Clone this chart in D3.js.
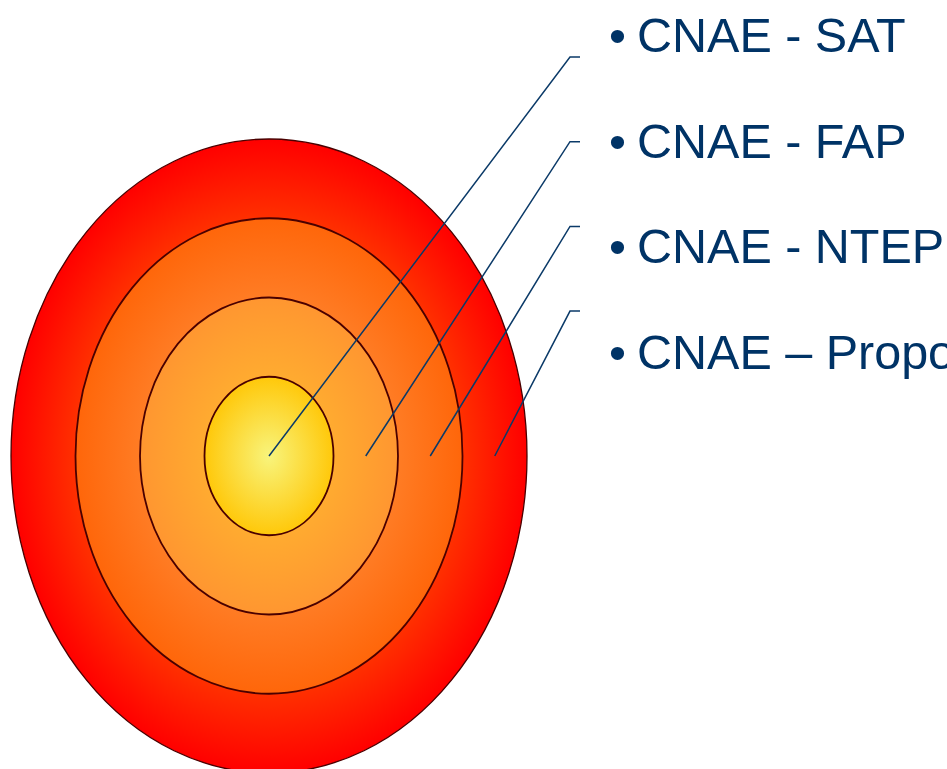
<!DOCTYPE html>
<html>
<head>
<meta charset="utf-8">
<script src="https://cdn.jsdelivr.net/npm/d3@7"></script>
<style>
  html, body { margin: 0; padding: 0; background: #fff; overflow: hidden; }
</style>
</head>
<body>
<div id="chart"></div>
<script>
// rings, from the outside in
var ringLevels = [4, 3, 2, 1];
var ringInner = ["#f8f47c", "#ffab30", "#ff7c24", "#ff3000"];
var ringOuter = ["#ffc80a", "#ff9630", "#ff660a", "#ff0000"];

// labels and where their leader line ends (in ring units)
var labels = ["CNAE - SAT", "CNAE - FAP", "CNAE - NTEP", "CNAE \u2013 Proporcionalidade"];
var leaderLevel = [0, 1.5, 2.5, 3.5];

var width = 947, height = 769;
var cx = 269, cy = 456;

var svg = d3.select("#chart")
    .append("svg")
    .attr("width", width)
    .attr("height", height);

// ring size scales
var rx = d3.scaleLinear().domain([0, 4]).range([0, 258]);
var ry = d3.scaleLinear().domain([0, 4]).range([0, 317]);

var defs = svg.append("defs");

ringLevels.forEach(function(lv) {
    var g = defs.append("radialGradient")
        .attr("id", "grad" + lv)
        .attr("cx", "50%").attr("cy", "50%").attr("r", "50%");
    // colour change happens across the visible band of each ring
    var inner = (lv - 1) / lv;
    g.append("stop").attr("offset", 0).attr("stop-color", ringInner[lv - 1]);
    if (lv > 1) {
        g.append("stop").attr("offset", inner).attr("stop-color", ringInner[lv - 1]);
    }
    g.append("stop").attr("offset", 1).attr("stop-color", ringOuter[lv - 1]);
});

svg.selectAll(".ring")
    .data(ringLevels)
    .enter().append("ellipse")
    .attr("class", "ring")
    .attr("cx", cx)
    .attr("cy", cy)
    .attr("rx", function(d) { return rx(d); })
    .attr("ry", function(d) { return ry(d); })
    .style("fill", function(d) { return "url(#grad" + d + ")"; })
    .style("stroke", "#4a0000")
    .style("stroke-width", function(d) { return d == 4 ? 1.3 : 1.8; });

// leader lines
var firstBaseline = 52, lineStep = 105.6;
var firstCorner = 57, cornerStep = 84.7;
var cornerX = 570, tickX = 580;

svg.selectAll(".leader")
    .data(leaderLevel)
    .enter().append("path")
    .attr("class", "leader")
    .attr("d", function(d, i) {
        var y2 = firstCorner + i * cornerStep;
        return "M" + (cx + rx(d)) + "," + cy + " L" + cornerX + "," + y2 + " L" + tickX + "," + y2;
    })
    .style("fill", "none")
    .style("stroke", "#0b3a68")
    .style("stroke-width", 1.5);

// bullet text
var lab = svg.selectAll(".label")
    .data(labels)
    .enter().append("g")
    .attr("class", "label")
    .attr("transform", function(d, i) { return "translate(0," + (firstBaseline + i * lineStep) + ")"; });

lab.append("text")
    .attr("x", 609)
    .attr("y", 0)
    .style("font-family", "Liberation Sans, Arial, sans-serif")
    .style("font-size", "48.5px")
    .style("fill", "#003366")
    .text("\u2022");

lab.append("text")
    .attr("x", 637)
    .attr("y", 0)
    .style("font-family", "Liberation Sans, Arial, sans-serif")
    .style("font-size", "48.5px")
    .style("fill", "#003366")
    .text(function(d) { return d; });
</script>
</body>
</html>
